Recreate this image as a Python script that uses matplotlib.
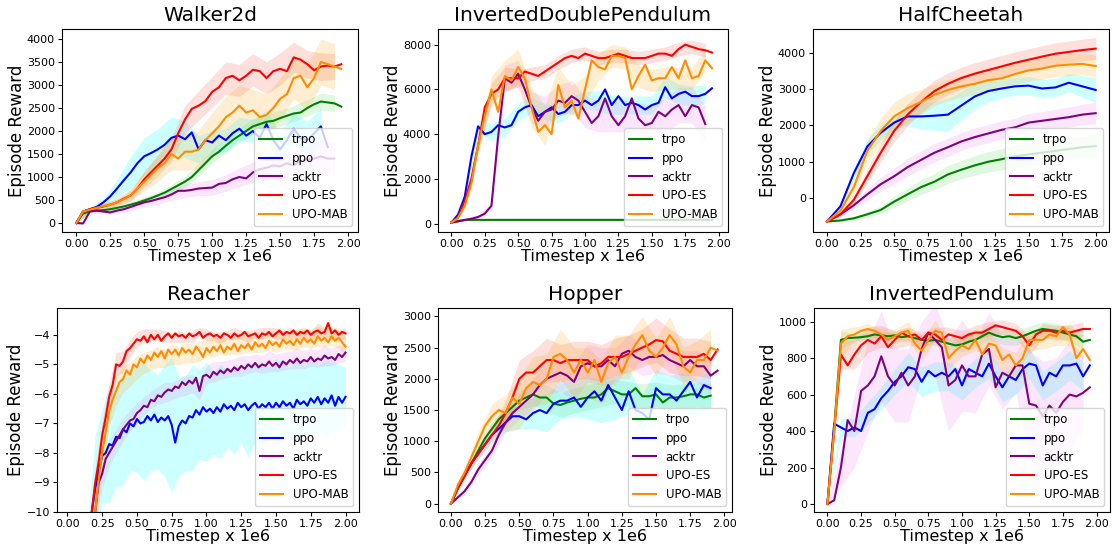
import numpy as np
import matplotlib
matplotlib.use("Agg")
import matplotlib.pyplot as plt

algos = ["trpo", "ppo", "acktr", "UPO-ES", "UPO-MAB"]
line_colors = ["green", "blue", "purple", "red", "darkorange"]
band_colors = ["limegreen", "cyan", "violet", "salmon", "orange"]
band_alphas = [0.15, 0.2, 0.2, 0.25, 0.18]

# ---------------- Walker2d (step 0.05, band every 2nd point) ----------------
walker_trpo = [0, 200, 260, 270, 280, 300, 330, 360, 400, 440, 490, 540, 600, 660, 740, 820, 900, 1000, 1150, 1300,
               1450, 1550, 1680, 1800, 1900, 2000, 2100, 2150, 2200, 2220, 2280, 2330, 2380, 2400, 2500, 2580, 2640, 2620, 2600, 2530]
walker_ppo = [0, 250, 300, 350, 450, 580, 750, 930, 1100, 1300, 1450, 1520, 1600, 1700, 1850, 1900, 1820, 1970, 1600, 1800,
              1750, 1900, 1800, 1950, 2050, 1900, 2000, 1850, 2150, 1800, 1600, 1800, 2050, 1850, 1800, 1950, 2100, 1650]
walker_acktr = [0, -10, 250, 270, 250, 230, 270, 300, 350, 400, 450, 480, 520, 560, 620, 700, 700, 720, 750, 760,
                770, 850, 870, 950, 1000, 970, 1100, 1170, 1200, 1250, 1230, 1300, 1250, 1350, 1380, 1400, 1450, 1400, 1400]
walker_es = [0, 250, 300, 330, 360, 400, 450, 530, 600, 750, 950, 1100, 1250, 1400, 1600, 1950, 2250, 2480, 2550, 2650,
             2850, 2950, 3150, 3200, 3100, 3200, 3330, 3300, 3150, 3300, 3350, 3300, 3600, 3550, 3450, 3320, 3400, 3420, 3400, 3450]
walker_mab = [0, 250, 290, 330, 370, 400, 450, 520, 600, 750, 900, 1050, 1200, 1300, 1500, 1400, 1550, 1550, 1600, 1800,
              1950, 2100, 2300, 2400, 2550, 2400, 2450, 2300, 2350, 2500, 2700, 2800, 3150, 3200, 2950, 3150, 3500, 3450, 3400, 3350]
walker_trpo_sd = [0, 30, 40, 50, 60, 70, 80, 100, 120, 140, 150, 150, 160, 170, 170, 170, 170, 180, 180, 180]
walker_ppo_sd = [0, 40, 80, 200, 350, 400, 450, 450, 400, 300, 250, 250, 250, 250, 300, 350, 350, 400, 400]
walker_acktr_sd = [0, 40, 50, 60, 80, 100, 120, 130, 150, 150, 170, 180, 200, 220, 250, 300, 320, 350, 350, 350]
walker_es_sd = [0, 40, 60, 80, 120, 180, 220, 260, 300, 320, 330, 350, 350, 350, 350, 350, 330, 300, 300, 280]
walker_mab_sd = [0, 40, 60, 80, 120, 200, 300, 350, 400, 420, 450, 450, 450, 450, 450, 450, 450, 480, 500, 500]

# ---------------- InvertedDoublePendulum (step 0.05) ----------------
idp_trpo = [50, 120, 165, 170, 170, 170, 170, 170, 170, 170, 170, 170, 170, 170, 170, 170, 170, 170, 170, 170,
            170, 170, 170, 170, 170, 170, 170, 170, 170, 170, 170, 170, 170, 170, 170, 170, 170, 170, 170, 170]
idp_ppo = [50, 400, 1200, 3000, 4350, 4000, 4100, 4400, 4300, 4400, 5000, 5200, 5300, 4800, 5000, 5200, 4900, 5000, 5300, 5300,
           5500, 5300, 5500, 6000, 5300, 5700, 5300, 5400, 5300, 5100, 5300, 5400, 6100, 5600, 5800, 5900, 5700, 5700, 5800, 6050]
idp_acktr = [50, 100, 170, 220, 300, 450, 800, 3900, 6500, 6300, 6700, 6000, 5200, 4600, 5000, 5100, 5500, 5400, 5700, 5500,
             5000, 4500, 4800, 5600, 4800, 4400, 4800, 5600, 4700, 4400, 4500, 5000, 4800, 5100, 5300, 4800, 5300, 5200, 4450]
idp_es = [50, 300, 1000, 2000, 3500, 5200, 5800, 6000, 6500, 6500, 6500, 6800, 6700, 6600, 6800, 7000, 7200, 7400, 7500, 7400,
          7600, 7500, 7400, 7400, 7500, 7600, 7500, 7400, 7400, 7400, 7500, 7600, 7600, 7500, 7800, 8000, 7900, 7800, 7750, 7650]
idp_mab = [50, 250, 800, 1800, 3500, 4800, 6000, 5000, 6600, 6400, 7000, 6500, 5200, 4100, 4400, 4000, 6200, 5200, 5500, 4700,
           6000, 7300, 7000, 6900, 7500, 7500, 7400, 6000, 6600, 7100, 6400, 6500, 6500, 7000, 6500, 7300, 6500, 6600, 7300, 6950]
idp_trpo_sd = [20, 20, 20, 20, 20, 20, 20, 20, 20, 20, 20, 20, 20, 20, 20, 20, 20, 20, 20, 20]
idp_ppo_sd = [0, 100, 300, 400, 400, 400, 350, 350, 400, 400, 400, 450, 450, 400, 400, 400, 450, 450, 450, 400]
idp_acktr_sd = [0, 50, 100, 200, 600, 600, 700, 700, 700, 700, 700, 700, 700, 700, 700, 800, 800, 800, 800, 800]
idp_es_sd = [0, 100, 300, 500, 500, 400, 300, 300, 300, 300, 300, 300, 300, 300, 300, 300, 300, 300, 300, 300]
idp_mab_sd = [0, 100, 300, 600, 700, 800, 900, 900, 800, 700, 600, 600, 500, 500, 500, 500, 500, 500, 500, 500]

# ---------------- HalfCheetah (step 0.1, band every point) ----------------
hc_trpo = [-650, -620, -560, -450, -330, -100, 100, 300, 450, 650, 780, 900, 1000, 1070, 1150, 1200, 1250, 1300, 1350, 1400, 1430]
hc_ppo = [-650, -230, 690, 1420, 1800, 2080, 2250, 2250, 2270, 2300, 2550, 2800, 2950, 3020, 3080, 3100, 3020, 3050, 3180, 3080, 2980]
hc_acktr = [-650, -450, -200, 100, 380, 600, 850, 1050, 1250, 1400, 1560, 1680, 1780, 1880, 1950, 2080, 2130, 2180, 2230, 2300, 2340]
hc_es = [-650, -450, -50, 600, 1250, 1850, 2300, 2650, 2950, 3150, 3310, 3430, 3530, 3630, 3730, 3815, 3900, 3980, 4030, 4080, 4120]
hc_mab = [-650, -350, 300, 1300, 1850, 2250, 2480, 2650, 2850, 2980, 3080, 3150, 3250, 3300, 3420, 3520, 3570, 3650, 3680, 3700, 3640]
hc_trpo_sd = [0, 20, 50, 80, 100, 150, 180, 200, 220, 250, 250, 270, 280, 290, 300, 300, 300, 300, 300, 300, 300]
hc_ppo_sd = [0, 80, 150, 200, 200, 200, 250, 350, 400, 450, 400, 350, 300, 250, 250, 250, 250, 250, 250, 300, 350]
hc_acktr_sd = [0, 50, 100, 150, 200, 220, 250, 250, 250, 250, 250, 250, 250, 250, 250, 250, 250, 270, 280, 280, 300]
hc_es_sd = [0, 50, 100, 200, 250, 300, 300, 300, 300, 300, 300, 300, 300, 300, 300, 300, 300, 300, 300, 300, 300]
hc_mab_sd = [0, 50, 200, 300, 350, 400, 400, 350, 300, 300, 300, 300, 300, 300, 300, 300, 300, 300, 300, 300, 300]

# ---------------- Reacher (starts at 0.15, step 0.025, band every 2nd point) ----------------
reacher_trpo = []
reacher_ppo = [-11.5, -10.0, -9.2, -8.6, -8.1, -8.0, -7.7, -7.75, -7.45, -7.5, -7.2, -7.3, -7.0, -7.1, -6.85, -7.0, -6.95, -6.75, -6.9, -6.7,
               -6.95, -6.8, -6.9, -6.75, -7.05, -7.65, -7.1, -6.9, -7.0, -6.75, -6.8, -6.55, -6.7, -6.45, -6.6, -6.5, -6.65, -6.45, -6.6, -6.35,
               -6.5, -6.4, -6.55, -6.3, -6.45, -6.35, -6.55, -6.4, -6.3, -6.5, -6.35, -6.45, -6.3, -6.5, -6.3, -6.45, -6.25, -6.4, -6.3, -6.5,
               -6.2, -6.35, -6.25, -6.4, -6.15, -6.3, -6.1, -6.35, -6.15, -6.3, -6.05, -6.4, -6.1, -6.3, -6.1]
reacher_acktr = [-12.0, -11.0, -10.0, -9.0, -8.7, -8.2, -8.0, -7.8, -7.6, -7.4, -7.2, -7.05, -6.9, -6.85, -6.65, -6.55, -6.4, -6.45, -6.2, -6.25,
                 -6.05, -6.1, -5.95, -5.85, -5.9, -5.75, -5.8, -5.6, -5.7, -5.55, -5.65, -5.45, -5.9, -5.4, -5.35, -5.45, -5.25, -5.35, -5.2, -5.3,
                 -5.15, -5.25, -5.1, -5.2, -5.05, -5.15, -5.0, -5.1, -4.95, -5.1, -5.0, -5.05, -4.9, -5.05, -4.95, -5.1, -4.9, -5.0, -4.85, -4.95,
                 -4.8, -4.95, -4.85, -4.9, -4.75, -4.9, -4.8, -4.85, -4.7, -4.8, -4.75, -4.85, -4.65, -4.75, -4.6]
reacher_es = [-11.0, -10.0, -9.0, -8.3, -7.4, -6.8, -6.1, -5.7, -5.0, -5.05, -4.9, -4.55, -4.45, -4.3, -4.15, -4.2, -4.05, -4.25, -4.0, -4.15,
              -4.0, -4.2, -4.05, -3.95, -4.1, -3.95, -4.05, -4.0, -4.1, -3.95, -4.05, -4.0, -3.9, -4.1, -4.0, -3.95, -4.05, -4.0, -4.1, -3.95,
              -4.0, -4.1, -3.95, -4.05, -4.0, -3.9, -4.05, -4.0, -3.95, -4.1, -3.95, -4.0, -3.9, -4.05, -3.95, -3.85, -4.0, -3.9, -3.95, -3.85,
              -4.0, -3.9, -3.95, -3.85, -4.0, -3.9, -3.85, -3.95, -3.9, -3.6, -3.95, -3.85, -4.0, -3.9, -3.95]
reacher_mab = [-12.0, -11.0, -10.0, -8.9, -8.0, -7.3, -6.6, -6.2, -5.9, -5.6, -5.5, -5.2, -5.35, -5.0, -5.1, -4.8, -4.95, -4.7, -4.85, -4.6,
               -4.75, -4.55, -4.8, -4.5, -4.65, -4.5, -4.7, -4.45, -4.6, -4.5, -4.65, -4.4, -4.55, -4.75, -4.45, -4.6, -4.4, -4.55, -4.35, -4.6,
               -4.4, -4.5, -4.3, -4.55, -4.35, -4.45, -4.3, -4.5, -4.25, -4.4, -4.3, -4.45, -4.2, -4.35, -4.25, -4.4, -4.15, -4.3, -4.2, -4.35,
               -4.15, -4.3, -4.1, -4.25, -4.15, -4.3, -4.05, -4.2, -4.1, -4.25, -4.05, -4.2, -4.1, -4.25, -4.4]
reacher_trpo_sd = []
reacher_ppo_sd = [1.5, 1.8, 1.6, 2.0, 1.7, 1.9, 1.6, 1.8, 2.0, 1.7, 1.6, 1.9, 2.3, 1.7, 1.6, 1.8, 1.5, 1.7, 1.4, 1.6,
                  1.3, 1.5, 1.2, 1.6, 1.3, 1.4, 1.2, 1.5, 1.3, 1.2, 1.4, 1.2, 1.3, 1.1, 1.3, 1.2, 1.1, 1.0]
reacher_acktr_sd = [0.6, 0.6, 0.5, 0.45, 0.4, 0.4, 0.35, 0.35, 0.3, 0.3, 0.3, 0.35, 0.3, 0.3, 0.35, 0.3, 0.3, 0.3, 0.35, 0.3,
                    0.3, 0.3, 0.35, 0.3, 0.3, 0.3, 0.35, 0.3, 0.3, 0.3, 0.35, 0.3, 0.3, 0.3, 0.35, 0.3, 0.3, 0.3]
reacher_es_sd = [0.5, 0.5, 0.5, 0.45, 0.4, 0.35, 0.3, 0.25, 0.25, 0.2, 0.2, 0.2, 0.15, 0.2, 0.15, 0.2, 0.15, 0.2, 0.15, 0.2,
                 0.15, 0.2, 0.15, 0.2, 0.15, 0.2, 0.15, 0.2, 0.15, 0.2, 0.15, 0.2, 0.15, 0.25, 0.15, 0.2, 0.15, 0.2]
reacher_mab_sd = [0.6, 0.6, 0.6, 0.5, 0.5, 0.45, 0.4, 0.4, 0.35, 0.35, 0.35, 0.3, 0.35, 0.3, 0.35, 0.3, 0.35, 0.3, 0.35, 0.3,
                  0.3, 0.35, 0.3, 0.3, 0.35, 0.3, 0.3, 0.35, 0.3, 0.3, 0.35, 0.3, 0.3, 0.35, 0.3, 0.3, 0.35, 0.3]

# ---------------- Hopper (step 0.05) ----------------
hop_trpo = [0, 250, 450, 650, 850, 1050, 1200, 1350, 1450, 1550, 1650, 1700, 1750, 1700, 1700, 1600, 1580, 1620, 1650, 1680,
            1700, 1700, 1750, 1850, 1800, 1750, 1750, 1850, 1720, 1720, 1750, 1620, 1700, 1700, 1720, 1750, 1750, 1700, 1730]
hop_ppo = [0, 250, 450, 650, 800, 950, 1100, 1200, 1300, 1400, 1400, 1350, 1450, 1500, 1450, 1600, 1650, 1650, 1700, 1550,
           1700, 1800, 1650, 1900, 1700, 1500, 1800, 1500, 1450, 1350, 1850, 1750, 1750, 1650, 1800, 1950, 1700, 1900, 1850]
hop_acktr = [0, 100, 200, 350, 550, 700, 850, 1100, 1300, 1450, 1550, 1650, 1750, 1900, 2000, 2050, 2100, 2050, 1950, 2200,
             2250, 2200, 2200, 2300, 2200, 2400, 2450, 2350, 2300, 2350, 2350, 2380, 2300, 2250, 2200, 2300, 2200, 2200, 2050, 2130]
hop_es = [0, 250, 450, 650, 800, 950, 1100, 1250, 1450, 1700, 2000, 2100, 2100, 2200, 2300, 2300, 2250, 2300, 2300, 2300,
          2300, 2200, 2250, 2350, 2350, 2350, 2400, 2450, 2500, 2550, 2620, 2600, 2450, 2400, 2350, 2350, 2350, 2400, 2300, 2470]
hop_mab = [0, 300, 500, 750, 1000, 1250, 1400, 1500, 1450, 1700, 1600, 1850, 1950, 1900, 2000, 2350, 2400, 2300, 2100, 2300,
           2100, 2300, 1950, 2250, 2350, 2100, 2350, 2550, 2700, 2450, 2350, 2500, 2700, 2550, 2200, 2100, 2300, 2300, 2500, 2450]
hop_trpo_sd = [0, 50, 80, 100, 120, 150, 180, 200, 200, 200, 200, 200, 200, 200, 200, 200, 200, 200, 200, 200]
hop_ppo_sd = [0, 50, 80, 120, 150, 200, 250, 300, 300, 300, 350, 350, 350, 350, 300, 300, 300, 300, 300, 300]
hop_acktr_sd = [0, 50, 80, 100, 150, 200, 250, 250, 300, 300, 300, 300, 300, 250, 250, 250, 250, 250, 250, 300]
hop_es_sd = [0, 50, 80, 120, 200, 300, 350, 350, 300, 300, 300, 300, 300, 300, 300, 350, 350, 300, 300, 300]
hop_mab_sd = [0, 100, 150, 200, 300, 400, 400, 400, 400, 400, 400, 350, 350, 350, 300, 300, 300, 300, 300, 300]

# ---------------- InvertedPendulum (step 0.05) ----------------
ip_trpo = [0, 420, 900, 910, 912, 915, 920, 930, 925, 920, 925, 915, 920, 910, 900, 895, 900, 890, 880, 870,
           875, 890, 900, 920, 940, 925, 915, 920, 910, 920, 935, 950, 960, 955, 950, 940, 930, 920, 890, 900]
ip_ppo = [0, 440, 420, 400, 420, 400, 500, 520, 580, 620, 670, 700, 750, 740, 670, 730, 700, 720, 700, 740,
          650, 740, 720, 700, 770, 700, 640, 700, 680, 740, 770, 760, 650, 720, 700, 760, 760, 770, 700, 760]
ip_acktr = [0, 20, 200, 460, 400, 620, 650, 700, 810, 700, 650, 720, 650, 700, 850, 940, 900, 860, 650, 680,
            760, 700, 700, 820, 850, 640, 720, 700, 760, 760, 550, 540, 480, 540, 500, 560, 600, 590, 610, 640]
ip_es = [0, 400, 820, 760, 820, 870, 900, 880, 920, 860, 900, 940, 920, 930, 900, 940, 930, 900, 930, 920,
         910, 930, 940, 940, 960, 980, 970, 960, 950, 920, 870, 930, 950, 950, 940, 950, 940, 950, 960, 960]
ip_mab = [0, 400, 880, 920, 930, 950, 960, 950, 930, 900, 920, 940, 950, 880, 840, 900, 950, 940, 800, 840,
          870, 850, 900, 820, 880, 870, 790, 820, 760, 800, 900, 900, 900, 930, 920, 970, 930, 800, 850, 790]
ip_trpo_sd = [0, 50, 20, 20, 20, 20, 30, 30, 30, 30, 40, 40, 40, 40, 40, 40, 40, 40, 40, 40]
ip_ppo_sd = [0, 50, 50, 60, 60, 70, 80, 80, 80, 80, 80, 80, 80, 80, 80, 80, 80, 80, 80, 80]
ip_acktr_sd = [0, 100, 200, 250, 250, 200, 200, 150, 200, 250, 250, 200, 200, 200, 150, 300, 300, 300, 300, 200]
ip_es_sd = [0, 80, 80, 70, 60, 50, 50, 40, 40, 40, 40, 40, 40, 40, 40, 50, 40, 40, 40, 40]
ip_mab_sd = [0, 80, 40, 30, 30, 40, 50, 50, 60, 60, 60, 60, 60, 70, 70, 60, 50, 50, 60, 60]

titles = ["Walker2d", "InvertedDoublePendulum", "HalfCheetah", "Reacher", "Hopper", "InvertedPendulum"]

panels = [
    dict(title=titles[0], x0=0.0, step=0.05, stride=2,
         means=[walker_trpo, walker_ppo, walker_acktr, walker_es, walker_mab],
         sds=[walker_trpo_sd, walker_ppo_sd, walker_acktr_sd, walker_es_sd, walker_mab_sd],
         xlim=(-0.105, 2.073), ylim=(-195, 4216), yticks=np.arange(0, 4001, 500),
         pos=(62, 29, 358, 232)),
    dict(title=titles[1], x0=0.0, step=0.05, stride=2,
         means=[idp_trpo, idp_ppo, idp_acktr, idp_es, idp_mab],
         sds=[idp_trpo_sd, idp_ppo_sd, idp_acktr_sd, idp_es_sd, idp_mab_sd],
         xlim=(-0.10, 2.07), ylim=(-372, 8700), yticks=np.arange(0, 8001, 2000),
         pos=(438, 29, 728, 232)),
    dict(title=titles[2], x0=0.0, step=0.1, stride=1,
         means=[hc_trpo, hc_ppo, hc_acktr, hc_es, hc_mab],
         sds=[hc_trpo_sd, hc_ppo_sd, hc_acktr_sd, hc_es_sd, hc_mab_sd],
         xlim=(-0.104, 2.099), ylim=(-938, 4662), yticks=np.arange(0, 4001, 1000),
         pos=(813, 29, 1109, 232)),
    dict(title=titles[3], x0=0.15, step=0.025, stride=2,
         means=[reacher_trpo, reacher_ppo, reacher_acktr, reacher_es, reacher_mab],
         sds=[reacher_trpo_sd, reacher_ppo_sd, reacher_acktr_sd, reacher_es_sd, reacher_mab_sd],
         xlim=(-0.075, 2.097), ylim=(-10, -3.09), yticks=np.arange(-10, -3.5, 1),
         pos=(57, 308, 359, 512)),
    dict(title=titles[4], x0=0.0, step=0.05, stride=2,
         means=[hop_trpo, hop_ppo, hop_acktr, hop_es, hop_mab],
         sds=[hop_trpo_sd, hop_ppo_sd, hop_acktr_sd, hop_es_sd, hop_mab_sd],
         xlim=(-0.095, 2.056), ylim=(-134, 3134), yticks=np.arange(0, 3001, 500),
         pos=(438, 308, 732, 512)),
    dict(title=titles[5], x0=0.0, step=0.05, stride=2,
         means=[ip_trpo, ip_ppo, ip_acktr, ip_es, ip_mab],
         sds=[ip_trpo_sd, ip_ppo_sd, ip_acktr_sd, ip_es_sd, ip_mab_sd],
         xlim=(-0.1, 2.1), ylim=(-44, 1075), yticks=np.arange(0, 1001, 200),
         pos=(814, 308, 1110, 512)),
]

W, H = 1112, 546
fig = plt.figure(figsize=(W / 100, H / 100), dpi=100)

for p in panels:
    l, t, r, b = p["pos"]
    ax = fig.add_axes([l / W, 1 - b / H, (r - l) / W, (b - t) / H])
    for i, name in enumerate(algos):
        m = np.asarray(p["means"][i], dtype=float)
        sd = np.asarray(p["sds"][i], dtype=float)
        x = p["x0"] + p["step"] * np.arange(len(m))
        if len(sd):
            xb = x[::p["stride"]][:len(sd)]
            mb = m[::p["stride"]][:len(sd)]
            ax.fill_between(xb, mb - sd[:len(xb)], mb + sd[:len(xb)], color=band_colors[i],
                            alpha=band_alphas[i], linewidth=0)
        ax.plot(x, m, color=line_colors[i], linewidth=1.5, label=name)
    ax.set_xlim(*p["xlim"])
    ax.set_ylim(*p["ylim"])
    ax.set_xticks(np.arange(0, 2.01, 0.25))
    ax.set_xticklabels(["%.2f" % v for v in np.arange(0, 2.01, 0.25)])
    ax.set_yticks(p["yticks"])
    ax.tick_params(labelsize=8, length=3, pad=2)
    ax.set_title(p["title"], fontsize=14.5)
    ax.set_xlabel("Timestep x 1e6", fontsize=11.5, labelpad=0)
    ax.set_ylabel("Episode Reward", fontsize=12, labelpad=1)
    ax.legend(loc="lower right", fontsize=8.5)

fig.savefig("out.png", dpi=100)
